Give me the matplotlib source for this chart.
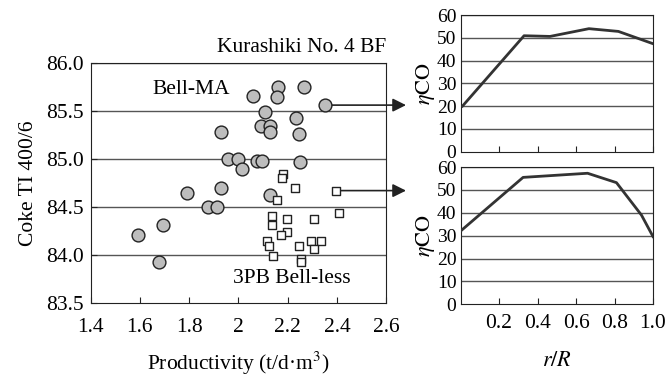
import matplotlib
matplotlib.use("Agg")
import matplotlib.pyplot as plt

plt.rcParams['font.family'] = ['Liberation Serif', 'DejaVu Serif']
plt.rcParams['mathtext.fontset'] = 'stix'
plt.rcParams['font.size'] = 15.5

# Bell-MA (circles)
bell_x = [2.06, 2.16, 2.155, 2.265, 2.35, 2.11, 2.235, 2.09, 2.13, 2.128, 1.928, 2.245,
          1.958, 1.997, 2.013, 2.077, 2.094, 2.25, 1.79, 1.929, 1.875, 1.914, 2.128,
          1.593, 1.696, 1.677]
bell_y = [85.65, 85.75, 85.64, 85.75, 85.56, 85.49, 85.43, 85.34, 85.34, 85.28, 85.28, 85.26,
          85.0, 85.0, 84.9, 84.98, 84.98, 84.965, 84.65, 84.70, 84.50, 84.50, 84.62,
          84.21, 84.31, 83.93]

# 3PB Bell-less (squares)
less_x = [2.183, 2.179, 2.23, 2.395, 2.158, 2.407, 2.137, 2.198, 2.309, 2.137, 2.198, 2.174,
          2.118, 2.296, 2.334, 2.125, 2.248, 2.309, 2.139, 2.255, 2.255]
less_y = [84.84, 84.80, 84.70, 84.67, 84.57, 84.44, 84.41, 84.37, 84.37, 84.31, 84.24, 84.21,
          84.15, 84.15, 84.15, 84.09, 84.09, 84.06, 83.99, 83.96, 83.93]

# radial gas utilisation profiles
ma_r = [0.01, 0.33, 0.465, 0.667, 0.82, 1.0]
ma_eta = [20, 50.9, 50.6, 54, 52.8, 47.4]
pb_r = [0.0, 0.325, 0.66, 0.81, 0.94, 1.0]
pb_eta = [32, 55.5, 57.3, 53.2, 39, 29.6]

dark = '#222222'
gridc = '#555555'

fig = plt.figure(figsize=(6.68, 3.77), dpi=100)

# left scatter panel
ax1 = fig.add_axes([0.1356, 0.1963, 0.4425, 0.637])
ax1.set_xlim(1.4, 2.6)
ax1.set_ylim(83.5, 86.0)
ax1.set_xticks([1.4, 1.6, 1.8, 2.0, 2.2, 2.4, 2.6])
ax1.set_xticklabels(['1.4', '1.6', '1.8', '2', '2.2', '2.4', '2.6'])
ax1.set_yticks([83.5, 84.0, 84.5, 85.0, 85.5, 86.0])
ax1.set_yticklabels(['83.5', '84.0', '84.5', '85.0', '85.5', '86.0'])
for y in [84.0, 84.5, 85.0, 85.5, 86.0]:
    ax1.axhline(y, color=gridc, lw=1, zorder=1)
ax1.tick_params(direction='in', length=4, color=dark, pad=5)
ax1.tick_params(axis='x', pad=11)
for s in ax1.spines.values():
    s.set_color(dark)
ax1.scatter(bell_x, bell_y, s=85, marker='o', facecolor='#bdbdbd', edgecolor=dark,
            linewidth=1, zorder=4)
ax1.scatter(less_x, less_y, s=40, marker='s', facecolor='white', edgecolor=dark,
            linewidth=1, zorder=4)
ax1.set_xlabel('Productivity (t/d·m$^3$)', labelpad=9)
ax1.set_ylabel('Coke TI 400/6', labelpad=6)
ax1.text(1.0, 1.025, 'Kurashiki No. 4 BF', transform=ax1.transAxes, ha='right', va='bottom')
ax1.text(1.65, 85.72, 'Bell-MA', ha='left', va='center')
ax1.text(1.98, 83.76, '3PB Bell-less', ha='left', va='center')

# arrows to profile panels
for xs, ys in [(bell_x[4], bell_y[4]), (less_x[3], less_y[3])]:
    ax1.annotate('', xy=(406 / 668, ys), xycoords=('figure fraction', 'data'),
                 xytext=(xs, ys), textcoords='data',
                 arrowprops=dict(arrowstyle='-|>', color=dark, lw=1.2, mutation_scale=20,
                                 shrinkA=0, shrinkB=0),
                 annotation_clip=False, zorder=3)

# right profile panels
ax2 = fig.add_axes([0.6894, 0.5976, 0.2882, 0.3626])
ax3 = fig.add_axes([0.6894, 0.1928, 0.2882, 0.364])
for ax, r, eta in [(ax2, ma_r, ma_eta), (ax3, pb_r, pb_eta)]:
    ax.set_xlim(0, 1.0)
    ax.set_ylim(0, 60)
    ax.set_yticks(range(0, 70, 10))
    ax.set_xticks([0.2, 0.4, 0.6, 0.8, 1.0])
    for y in range(10, 70, 10):
        ax.axhline(y, color=gridc, lw=1, zorder=1)
    ax.plot(r, eta, color='#333333', lw=2, zorder=3)
    ax.tick_params(axis='x', direction='in', length=4, color=dark, pad=7)
    ax.tick_params(axis='y', length=0, pad=3, labelsize=14)
    for s in ax.spines.values():
        s.set_color(dark)
    ax.set_ylabel(r'$\eta\mathrm{CO}$', labelpad=0, fontsize=16)
ax2.set_xticklabels([])
ax3.set_xticklabels(['0.2', '0.4', '0.6', '0.8', '1.0'])
ax3.set_xlabel(r'$r/R$', labelpad=14, fontsize=16)

fig.savefig('out.png', dpi=100)
